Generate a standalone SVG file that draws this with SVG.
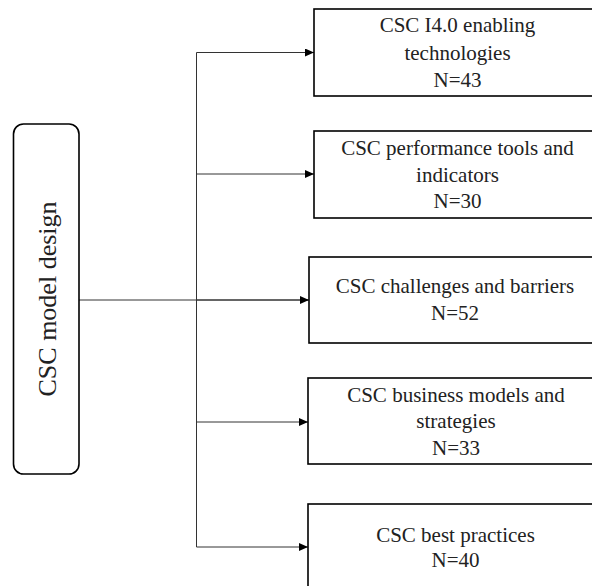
<svg xmlns="http://www.w3.org/2000/svg" width="592" height="586" viewBox="0 0 592 586">
<defs>
<style>
.box{fill:#fff;stroke:#000;stroke-width:1.6}
.t{font-family:"Liberation Serif",serif;font-size:21px;fill:#222;text-anchor:middle}
.c{fill:none;stroke:#333;stroke-width:1}
</style>
<marker id="ah" markerWidth="10" markerHeight="8" refX="9" refY="4" orient="auto" markerUnits="userSpaceOnUse">
<path d="M0,0 L9,4 L0,8 Z" fill="#000"/>
</marker>
</defs>
<rect width="592" height="586" fill="#fff"/>
<g id="connectors">
<path class="c" d="M79,300 H308"/>
<path class="c" d="M196.5,52.5 V547"/>
<path class="c" d="M196.5,52.5 H314" marker-end="url(#ah)"/>
<path class="c" d="M196.5,174 H314" marker-end="url(#ah)"/>
<path class="c" d="M196.5,300 H309" marker-end="url(#ah)"/>
<path class="c" d="M196.5,422 H308" marker-end="url(#ah)"/>
<path class="c" d="M196.5,547 H308" marker-end="url(#ah)"/>
</g>
<g id="root">
<rect class="box" x="13.5" y="124" width="65.5" height="350" rx="10"/>
<text class="t" style="font-size:26px" transform="translate(56,299) rotate(-90)">CSC model design</text>
</g>
<g id="n1">
<rect class="box" x="314" y="9" width="290" height="87"/>
<text class="t" x="457.5" y="32">CSC I4.0 enabling</text>
<text class="t" x="457.5" y="60">technologies</text>
<text class="t" x="457.5" y="87">N=43</text>
</g>
<g id="n2">
<rect class="box" x="314" y="131" width="290" height="87"/>
<text class="t" x="457.5" y="155">CSC performance tools and</text>
<text class="t" x="457.5" y="182">indicators</text>
<text class="t" x="457.5" y="208">N=30</text>
</g>
<g id="n3">
<rect class="box" x="309" y="257" width="295" height="86"/>
<text class="t" x="455" y="293">CSC challenges and barriers</text>
<text class="t" x="455" y="320">N=52</text>
</g>
<g id="n4">
<rect class="box" x="308" y="378" width="296" height="86"/>
<text class="t" x="456" y="402">CSC business models and</text>
<text class="t" x="456" y="428">strategies</text>
<text class="t" x="456" y="455">N=33</text>
</g>
<g id="n5">
<rect class="box" x="308" y="504" width="296" height="100"/>
<text class="t" x="455.5" y="542">CSC best practices</text>
<text class="t" x="455.5" y="567">N=40</text>
</g>
</svg>
